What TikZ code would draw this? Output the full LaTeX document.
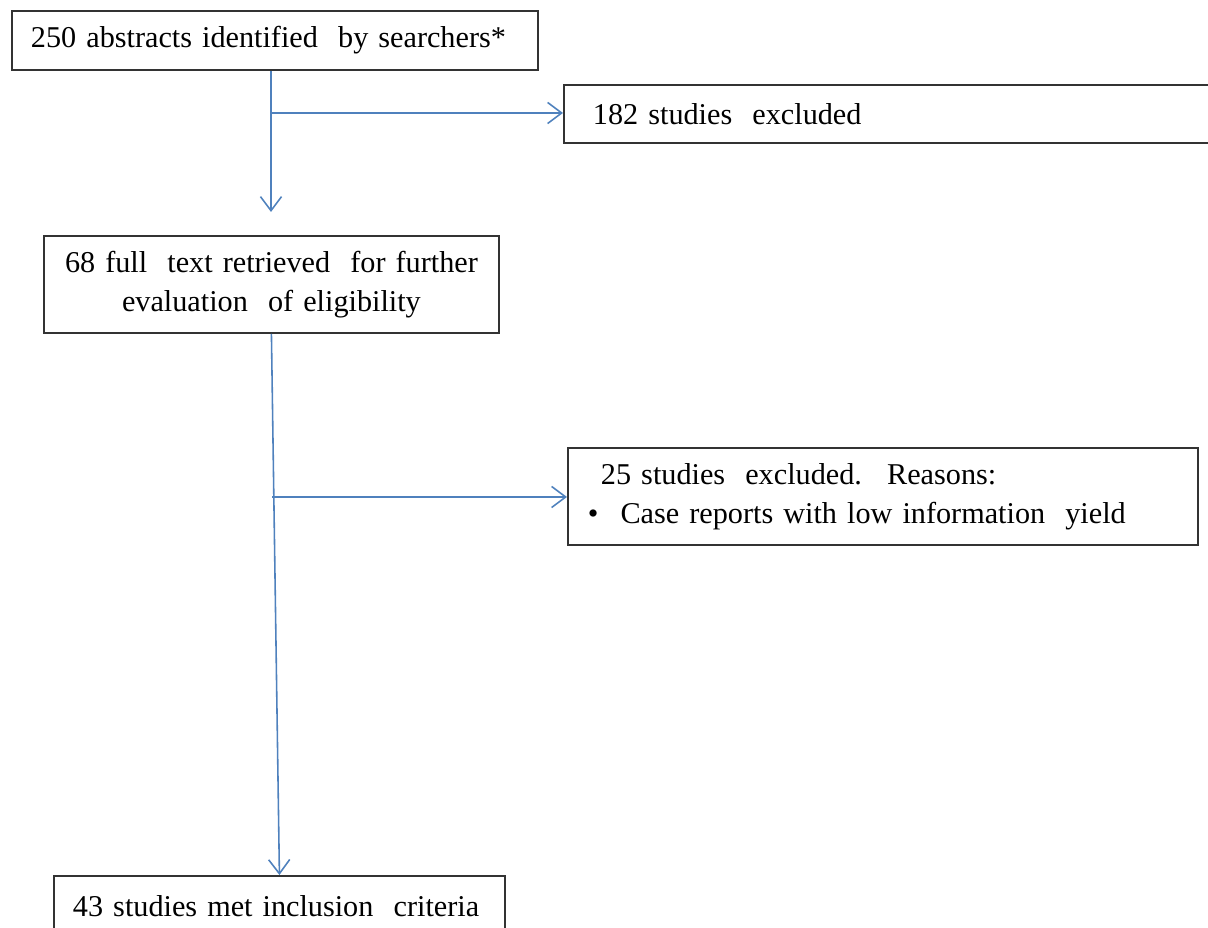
\documentclass[tikz,border=0pt]{standalone}
\usepackage{fontspec}
\setmainfont{Liberation Serif}
\usetikzlibrary{arrows.meta, positioning}

\begin{document}
\begin{tikzpicture}[
    x=0.02cm, y=-0.02cm,
    every node/.style={font=\fontsize{17.2}{22}\selectfont},
    box/.style={draw=black!80, line width=1.1pt, anchor=north west, align=left, inner ysep=0pt, fill=white},
    arrow/.style={-{Straight Barb[length=8pt, width=12pt, line width=0.9pt]}, line width=0.9pt, color={rgb,255:red,79;green,129;blue,189}},
]
\useasboundingbox (0,0) rectangle (1208,928);

% === Boxes ===
\node[box, minimum height=1.18cm, text width=9.76cm, inner xsep=0.38cm] (abs) at (11,10) {250 abstracts identified \ by searchers*};
\node[box, minimum height=1.16cm, text width=12.3cm, inner xsep=0.58cm] (excl1) at (563,84) {182 studies \ excluded};
\node[box, minimum height=1.94cm, text width=8.9cm, inner xsep=0.1cm, align=center] (full) at (43,235) {68 full \ text retrieved \ for further\\evaluation \ of eligibility};
\node[box, minimum height=1.94cm, text width=11.8cm, inner xsep=0.4cm] (excl2) at (567,447) {\hspace{0.26cm}25 studies \ excluded. \ Reasons:\\\textbullet\hspace{0.44cm}Case reports with low information \ yield};
\node[box, minimum height=1.2cm, text width=8.26cm, inner xsep=0.38cm] (incl) at (53,875) {43 studies met inclusion \ criteria};

% === Connectors ===
\coordinate (j1) at (271,113);
\coordinate (d1) at (271,212);
\coordinate (j2) at (272,497);

\draw[arrow] (abs.south -| j1) -- (d1);
\draw[arrow] (j1) -- (j1 -| excl1.west);
\draw[arrow] (full.south) -- (incl.north);
\draw[arrow] (j2) -- (j2 -| excl2.west);

\end{tikzpicture}
\end{document}
